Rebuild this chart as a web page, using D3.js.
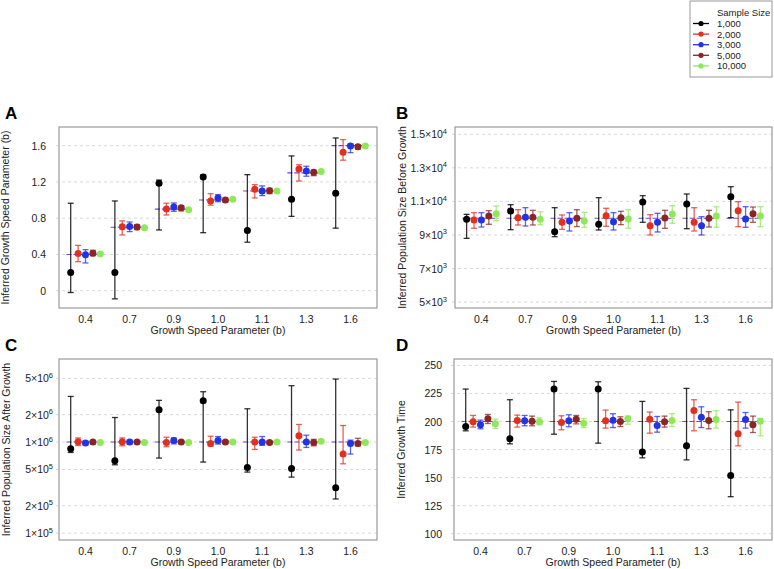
<!DOCTYPE html>
<html>
<head>
<meta charset="utf-8">
<script src="https://cdn.jsdelivr.net/npm/d3@7"></script>
<style>
  body { margin: 0; background: #fff; }
  text { font-family: "Liberation Sans", Arial, sans-serif; fill: #222; }
</style>
</head>
<body>
<div id="chart"></div>
<script>
// growth speed parameter values (x groups) and sample sizes (series)
const bValues = ['0.4', '0.7', '0.9', '1.0', '1.1', '1.3', '1.6'];
const sampleSizes = ['1,000', '2,000', '3,000', '5,000', '10,000'];
const seriesColors = ['#000000', '#e0301e', '#2233e6', '#8b2525', '#8fe85a'];

// true values (purple reference lines)
const trueSpeed = [0.4, 0.7, 0.9, 1.0, 1.1, 1.3, 1.6];
const truePopBefore = [1e4, 1e4, 1e4, 1e4, 1e4, 1e4, 1e4];
const truePopAfter = [1e6, 1e6, 1e6, 1e6, 1e6, 1e6, 1e6];
const trueTime = [200, 200, 200, 200, 200, 200, 200];

// [estimate, lower, upper] per b value
// A: inferred growth speed parameter
const speed1000 = [[0.20,-0.02,0.965],[0.20,-0.09,0.99],[1.185,0.67,1.22],[1.255,0.64,1.28],[0.665,0.535,1.28],[1.01,0.82,1.487],[1.075,0.69,1.685]];
const speed2000 = [[0.41,0.32,0.50],[0.705,0.615,0.77],[0.90,0.835,0.965],[0.99,0.943,1.07],[1.12,1.023,1.17],[1.343,1.21,1.39],[1.527,1.44,1.667]];
const speed3000 = [[0.397,0.306,0.453],[0.707,0.652,0.758],[0.924,0.876,0.968],[1.023,0.982,1.06],[1.10,1.049,1.156],[1.321,1.263,1.373],[1.597,1.523,1.619]];
const speed5000 = [[0.413,0.386,0.446],[0.703,0.674,0.729],[0.916,0.88,0.935],[1.0,0.979,1.023],[1.104,1.071,1.13],[1.307,1.269,1.329],[1.589,1.564,1.611]];
const speed10000 = [[0.405,0.395,0.415],[0.695,0.685,0.705],[0.893,0.883,0.903],[1.009,0.999,1.019],[1.10,1.09,1.11],[1.314,1.304,1.324],[1.597,1.587,1.607]];

// B: inferred population size before growth
const before1000 = [[9930,8800,10230],[10430,9315,10805],[9196,8897,10626],[9636,9297,11222],[10966,9756,11341],[10846,9374,11442],[11282,10030,11877]];
const before2000 = [[9893,9398,10328],[10030,9595,10507],[9756,9339,10191],[10149,9517,10590],[9556,8999,10209],[9756,9237,10626],[10447,9494,10984]];
const before3000 = [[9893,9476,10328],[10054,9535,10626],[9833,9237,10328],[9794,9297,10328],[9756,9178,10292],[9556,8999,10090],[9954,9458,10685]];
const before5000 = [[10131,9636,10447],[10054,9595,10470],[9994,9500,10507],[10030,9613,10411],[10012,9398,10470],[9994,9476,10470],[10268,9756,10667]];
const before10000 = [[10268,9851,10727],[9934,9613,10387],[9833,9458,10348],[9954,9398,10507],[10250,9696,10745],[10131,9458,10685],[10131,9494,10685]];

// C: inferred population size after growth
const after1000 = [[8.44e5,7.69e5,3.17e6],[6.23e5,5.63e5,1.86e6],[2.26e6,6.67e5,2.87e6],[2.84e6,6.03e5,3.57e6],[5.26e5,4.68e5,2.32e6],[5.13e5,4.12e5,4.16e6],[3.15e5,2.37e5,4.92e6]];
const after2000 = [[1.01e6,9.18e5,1.11e6],[1.01e6,9.1e5,1.11e6],[9.9e5,8.88e5,1.13e6],[9.66e5,9.04e5,1.16e6],[1.0e6,8.3e5,1.13e6],[1.17e6,8.17e5,1.56e6],[7.38e5,5.77e5,1.52e6]];
const after3000 = [[9.75e5,9.34e5,1.025e6],[1.0e6,9.5e5,1.05e6],[1.04e6,9.55e5,1.11e6],[1.04e6,9.5e5,1.15e6],[1.0e6,9.2e5,1.15e6],[1.0e6,8.73e5,1.19e6],[9.66e5,7.38e5,1.05e6]];
const after5000 = [[1.0e6,9.6e5,1.04e6],[1.0e6,9.6e5,1.04e6],[1.0e6,9.6e5,1.04e6],[1.0e6,9.6e5,1.04e6],[9.9e5,9.5e5,1.03e6],[9.9e5,9.1e5,1.07e6],[9.66e5,9.1e5,1.1e6]];
const after10000 = [[9.9e5,9.7e5,1.01e6],[9.9e5,9.7e5,1.01e6],[9.9e5,9.7e5,1.01e6],[1.0e6,9.8e5,1.02e6],[1.0e6,9.8e5,1.02e6],[1.02e6,1.0e6,1.04e6],[9.9e5,9.7e5,1.01e6]];

// D: inferred growth time
const time1000 = [[195.5,191.7,228.9],[184.6,180.1,219.4],[228.9,188.7,235.7],[228.9,180.7,235.4],[172.9,167.6,217.9],[178.3,165.8,229.5],[151.8,133,210.4]];
const time2000 = [[199.7,195,205.4],[200.9,195,205.7],[199.1,192.6,205.1],[200.6,194.1,210.2],[202.1,189.6,208.4],[209.8,191.7,219.4],[189,178.3,217.3]];
const time3000 = [[197,193.5,201.2],[200.6,196.2,205.4],[200.6,195.3,206],[201.2,194.6,206.9],[196.4,190.5,204.5],[203.9,194.6,213.1],[201.8,194.1,208]];
const time5000 = [[202.4,198.2,206.3],[200.3,196.2,204.8],[202.1,197.9,205.4],[200,195.5,204.2],[199.7,195,204.8],[200.9,193.5,208.7],[197,190.2,204.8]];
const time10000 = [[198,193.8,202.1],[199.7,197,203.3],[198.5,194.6,202.7],[202.4,197.6,204.8],[200.9,195.5,206.9],[201.8,194.1,209.6],[200.3,187.2,202.7]];

// y ticks
const speedTicks = [0, 0.4, 0.8, 1.2, 1.6];
const beforeTicks = [5e3, 7e3, 9e3, 1.1e4, 1.3e4, 1.5e4];
const afterTicks = [1e5, 2e5, 5e5, 1e6, 2e6, 5e6];
const timeTicks = [100, 125, 150, 175, 200, 225, 250];

const W = 774, H = 569;
const svg = d3.select('#chart').append('svg')
  .attr('width', W).attr('height', H);

const panels = [
  { letter: 'A', box: [59, 127, 377, 308], scale: d3.scaleLinear().domain([-0.191, 1.806]),
    ticks: speedTicks, fmt: d => ({ m: d === 0 ? '0' : d3.format('.1f')(d) }), labGap: 13,
    title: 'Inferred Growth Speed Parameter (b)', titleX: 7,
    series: [speed1000, speed2000, speed3000, speed5000, speed10000], truth: trueSpeed },
  { letter: 'B', box: [455, 127, 772, 308], scale: d3.scaleLinear().domain([4648, 15435]),
    ticks: beforeTicks, fmt: sci, labGap: 8,
    title: 'Inferred Population Size Before Growth', titleX: 404,
    series: [before1000, before2000, before3000, before5000, before10000], truth: truePopBefore },
  { letter: 'C', box: [59, 359, 377, 540], scale: d3.scaleLog().domain([8.4e4, 8.17e6]),
    ticks: afterTicks, fmt: sci, labGap: 6,
    title: 'Inferred Population Size After Growth', titleX: 8,
    series: [after1000, after2000, after3000, after5000, after10000], truth: truePopAfter },
  { letter: 'D', box: [454, 359, 772, 540], scale: d3.scaleLinear().domain([94.4, 255.7]),
    ticks: timeTicks, fmt: d => ({ m: String(d) }), labGap: 12,
    title: 'Inferred Growth Time', titleX: 403,
    series: [time1000, time2000, time3000, time5000, time10000], truth: trueTime }
];

function sci(d) {
  const e = Math.floor(Math.log10(d) + 1e-9);
  const m = d / Math.pow(10, e);
  if (d < 1e4 && d >= 1e3 && d !== 1e3) {
    return { m: String(Math.round(m)), e: e };
  }
  return { m: (Math.abs(m - Math.round(m)) < 1e-9 ? String(Math.round(m)) : m.toFixed(1)), e: e };
}

const spacing = 7.4;

panels.forEach(p => {
  const [x0, y0, x1, y1] = p.box;
  const g = svg.append('g');
  const x = d3.scalePoint().domain(bValues).range([x0, x1]).padding(0.6);
  const y = p.scale.range([y1, y0]);

  // dashed grid
  g.selectAll('line.grid').data(p.ticks).enter().append('line')
    .attr('x1', x0 - 3).attr('x2', x1)
    .attr('y1', d => y(d)).attr('y2', d => y(d))
    .attr('stroke', '#cfcfcf').attr('stroke-width', 0.8)
    .attr('stroke-dasharray', '3,3');

  // y tick labels
  const lab = g.selectAll('text.yt').data(p.ticks).enter().append('text')
    .attr('x', x0 - p.labGap).attr('y', d => y(d) + 4)
    .attr('text-anchor', 'end').style('font-size', '10.5px');
  lab.each(function(d) {
    const f = p.fmt(d);
    const t = d3.select(this);
    if (f.e === undefined) { t.text(f.m); return; }
    t.append('tspan').text(f.m + '\u00d7' + '10');
    t.append('tspan').attr('dy', -4.5).style('font-size', '7.5px').text(f.e);
  });

  // x tick labels
  g.selectAll('text.xt').data(bValues).enter().append('text')
    .attr('x', d => x(d)).attr('y', y1 + 15)
    .attr('text-anchor', 'middle').style('font-size', '10.5px')
    .text(d => d);

  g.append('text')
    .attr('x', (x0 + x1) / 2).attr('y', y1 + 26)
    .attr('text-anchor', 'middle').style('font-size', '10.5px')
    .text('Growth Speed Parameter (b)');

  g.append('text')
    .attr('transform', `translate(${p.titleX + 2},${(y0 + y1) / 2}) rotate(-90)`)
    .attr('text-anchor', 'middle').style('font-size', '10.5px')
    .text(p.title);

  g.append('text')
    .attr('x', p.letter === 'A' || p.letter === 'C' ? 5 : 396)
    .attr('y', y0 - 8)
    .style('font-size', '17px').style('font-weight', 'bold')
    .style('fill', '#000')
    .text(p.letter);

  // true value lines
  g.selectAll('line.truth').data(bValues).enter().append('line')
    .attr('x1', d => x(d) - 19).attr('x2', d => x(d) + 17)
    .attr('y1', (d, i) => y(p.truth[i])).attr('y2', (d, i) => y(p.truth[i]))
    .attr('stroke', '#6b45d6').attr('stroke-width', 1.1)
    .attr('stroke-dasharray', '5,2');

  // error bars and points
  p.series.forEach((s, j) => {
    const col = seriesColors[j];
    const off = (j - 2) * spacing;
    const sg = g.append('g');
    const bars = sg.selectAll('g').data(s).enter().append('g')
      .attr('stroke', col).attr('stroke-opacity', j === 0 ? 0.8 : 0.75)
      .attr('stroke-width', 1.3);
    bars.append('line')
      .attr('x1', (d, i) => x(bValues[i]) + off).attr('x2', (d, i) => x(bValues[i]) + off)
      .attr('y1', d => y(d[1])).attr('y2', d => y(d[2]));
    bars.append('line')
      .attr('x1', (d, i) => x(bValues[i]) + off - 3).attr('x2', (d, i) => x(bValues[i]) + off + 3)
      .attr('y1', d => y(d[1])).attr('y2', d => y(d[1]));
    bars.append('line')
      .attr('x1', (d, i) => x(bValues[i]) + off - 3).attr('x2', (d, i) => x(bValues[i]) + off + 3)
      .attr('y1', d => y(d[2])).attr('y2', d => y(d[2]));
    sg.selectAll('circle').data(s).enter().append('circle')
      .attr('cx', (d, i) => x(bValues[i]) + off)
      .attr('cy', d => y(d[0]))
      .attr('r', 3.5).attr('fill', col);
  });

  // box
  g.append('rect')
    .attr('x', x0).attr('y', y0).attr('width', x1 - x0).attr('height', y1 - y0)
    .attr('fill', 'none').attr('stroke', '#9a9a9a').attr('stroke-width', 1.2);
});

// legend
const lg = svg.append('g');
lg.append('rect').attr('x', 690).attr('y', 1).attr('width', 82).attr('height', 76)
  .attr('fill', '#fff').attr('stroke', '#9a9a9a').attr('stroke-width', 1);
lg.append('text').attr('x', 717).attr('y', 16).style('font-size', '9.5px').text('Sample Size');
sampleSizes.forEach((s, j) => {
  const yy = 23.5 + j * 10.6;
  lg.append('line').attr('x1', 693).attr('x2', 709).attr('y1', yy).attr('y2', yy)
    .attr('stroke', seriesColors[j]).attr('stroke-width', 1.3);
  lg.append('circle').attr('cx', 701).attr('cy', yy).attr('r', 2.6).attr('fill', seriesColors[j]);
  lg.append('text').attr('x', 717).attr('y', yy + 3.5).style('font-size', '9.5px').text(s);
});
</script>
</body>
</html>
